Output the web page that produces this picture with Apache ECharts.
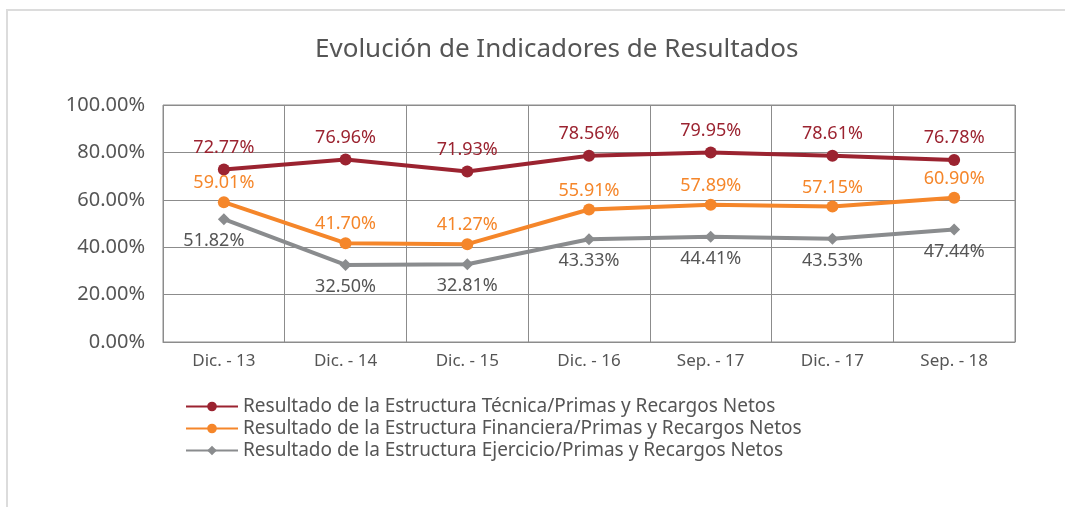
<!DOCTYPE html>
<html>
<head>
<meta charset="utf-8">
<script src="https://cdn.jsdelivr.net/npm/echarts@6/dist/echarts.min.js"></script>
<style>
  html, body { margin: 0; padding: 0; background: #fff; }
  #chart { width: 1065px; height: 507px; }
</style>
</head>
<body>
<div id="chart"></div>
<script>
var categories = ['Dic. - 13', 'Dic. - 14', 'Dic. - 15', 'Dic. - 16', 'Sep. - 17', 'Dic. - 17', 'Sep. - 18'];
var tecnica = [72.77, 76.96, 71.93, 78.56, 79.95, 78.61, 76.78];
var financiera = [59.01, 41.70, 41.27, 55.91, 57.89, 57.15, 60.90];
var ejercicio = [51.82, 32.50, 32.81, 43.33, 44.41, 43.53, 47.44];
var names = [
  'Resultado de la Estructura Técnica/Primas y Recargos Netos',
  'Resultado de la Estructura Financiera/Primas y Recargos Netos',
  'Resultado de la Estructura Ejercicio/Primas y Recargos Netos'
];
var colors = ['#9b2330', '#f5862a', '#8a8c8e'];
var font = '"Noto Sans", sans-serif';

var chart = echarts.init(document.getElementById('chart'));

function pct(p) { return p.value.toFixed(2) + '%'; }

// gray series: first label sits left-below, the rest below
var grayData = ejercicio.map(function (v, i) {
  if (i === 0) {
    return { value: v, label: { position: 'bottom', offset: [-10, 0] } };
  }
  return v;
});

chart.setOption({
  color: colors,
  title: {
    text: 'Evolución de Indicadores de Resultados',
    left: 310,
    top: 32,
    textStyle: { fontFamily: font, fontSize: 26, fontWeight: 'normal', color: '#555' }
  },
  graphic: [{
    type: 'rect',
    shape: { x: 7, y: 10, width: 1100, height: 520 },
    style: { fill: 'none', stroke: '#dcdcdc', lineWidth: 2 },
    silent: true
  }],
  legend: {
    orient: 'vertical',
    left: 180,
    top: 392,
    itemGap: 3,
    itemWidth: 52,
    itemHeight: 12,
    data: names,
    textStyle: { fontFamily: font, fontSize: 19, color: '#555' }
  },
  grid: {
    left: 163, right: 50, top: 105, bottom: 165,
    show: true, borderColor: '#8c8c8c', borderWidth: 1
  },
  xAxis: {
    type: 'category',
    data: categories,
    boundaryGap: true,
    axisLine: { show: true, lineStyle: { color: '#8c8c8c' } },
    axisTick: { show: false },
    splitLine: { show: true, interval: 0, lineStyle: { color: '#8c8c8c' } },
    axisLabel: { margin: 11, fontFamily: font, fontSize: 17, color: '#555' }
  },
  yAxis: {
    type: 'value',
    min: 0, max: 100, interval: 20,
    axisLine: { show: false },
    axisTick: { show: false },
    splitLine: { lineStyle: { color: '#8c8c8c' } },
    axisLabel: {
      margin: 18, fontFamily: font, fontSize: 20, color: '#555',
      formatter: function (v) { return v.toFixed(2) + '%'; }
    }
  },
  series: [{
    name: names[0],
    type: 'line',
    data: tecnica,
    symbol: 'circle',
    symbolSize: 12,
    lineStyle: { width: 4 },
    label: { show: true, position: 'top', distance: 7, formatter: pct,
      fontFamily: font, fontSize: 18, color: colors[0] }
  }, {
    name: names[1],
    type: 'line',
    data: financiera,
    symbol: 'circle',
    symbolSize: 12,
    lineStyle: { width: 4 },
    label: { show: true, position: 'top', distance: 4, formatter: pct,
      fontFamily: font, fontSize: 18, color: colors[1] }
  }, {
    name: names[2],
    type: 'line',
    data: grayData,
    symbol: 'diamond',
    symbolSize: 12,
    lineStyle: { width: 4 },
    label: { show: true, position: 'bottom', distance: 7, formatter: pct,
      fontFamily: font, fontSize: 18, color: '#555' }
  }]
});
</script>
</body>
</html>
